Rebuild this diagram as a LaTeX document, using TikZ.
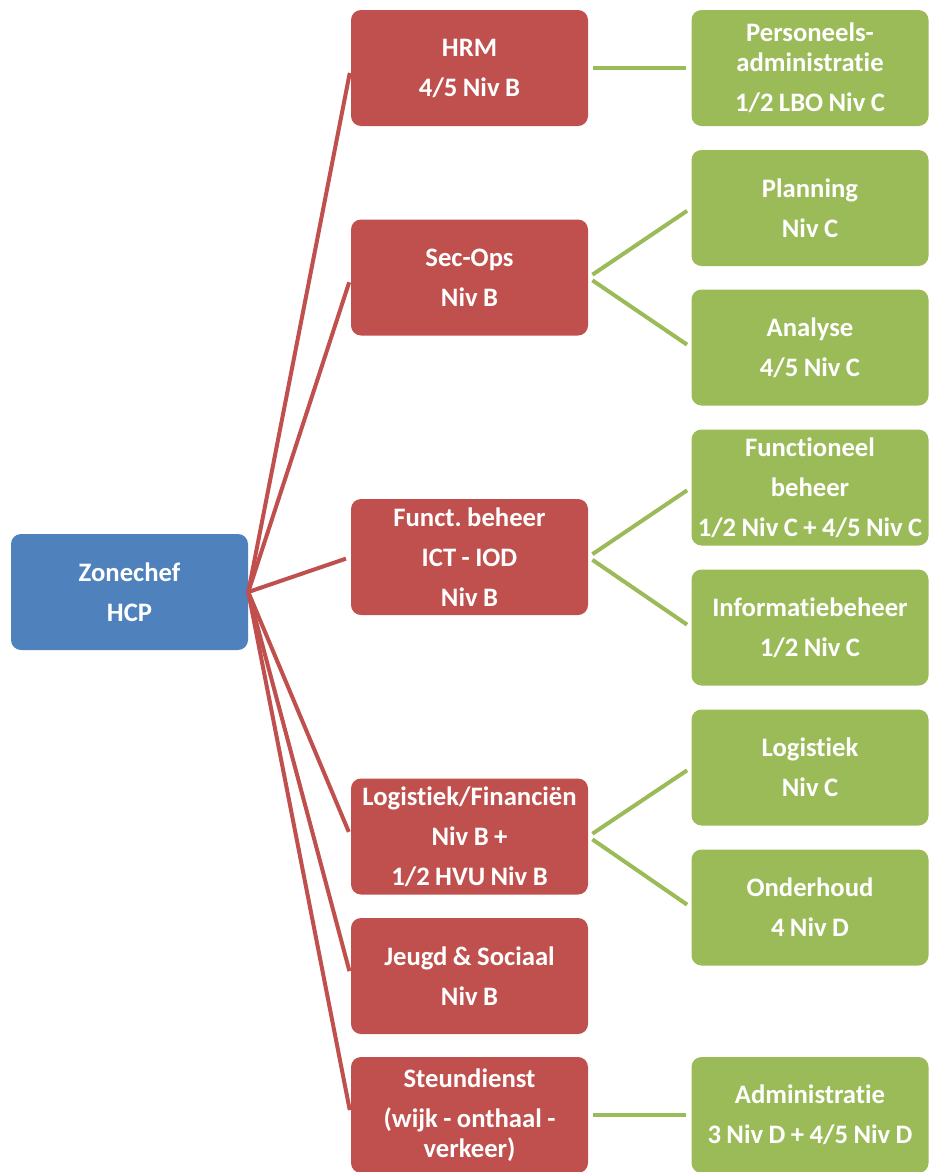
\documentclass[tikz,border=0pt]{standalone}
\usepackage{fontspec}
\setmainfont{Carlito}[Ligatures=NoCommon,WordSpace={0.9,0,0}]
\definecolor{zoneblue}{HTML}{4F81BD}
\definecolor{dienstred}{HTML}{C0504D}
\definecolor{celgreen}{HTML}{9BBB59}
\frenchspacing
\begin{document}
\begin{tikzpicture}[x=0.75pt,y=-0.75pt,
  box/.style={rounded corners=7.5pt,minimum width=177.75pt,minimum height=87pt,
    align=center,inner sep=0pt,text=white,
    font=\fontsize{20}{22.5}\selectfont\bfseries},
  chef/.style={box,fill=zoneblue},
  dienst/.style={box,fill=dienstred},
  cel/.style={box,fill=celgreen},
  redline/.style={dienstred,line width=3pt,shorten >=3.75pt},
  greenline/.style={celgreen,line width=3pt,shorten <=3.75pt,shorten >=3.75pt}]
\useasboundingbox (0,0) rectangle (930,1172);
% chef
\node[chef] (zone) at (129.5,592) {Zonechef\\[7.5pt]HCP};
% diensten
\node[dienst] (hrm)   at (469.5,68)    {HRM\\[7.5pt]4/5 Niv B};
\node[dienst] (secops) at (469.5,277.5) {Sec-Ops\\[7.5pt]Niv B};
\node[dienst] (ict)   at (469.5,557)   {Funct. beheer\\[7.5pt]ICT - IOD\\[7.5pt]Niv B};
\node[dienst] (logfin) at (469.5,836.5) {Logistiek/Financiën\\[7.5pt]Niv B +\\[7.5pt]1/2 HVU Niv B};
\node[dienst] (jeugd) at (469.5,976)   {Jeugd \& Sociaal\\[7.5pt]Niv B};
\node[dienst] (steun) at (469.5,1115)  {Steundienst\\[7.5pt](wijk - onthaal -\\verkeer)};
% cellen
\node[cel] (pers)   at (810,68)    {Personeels-\\administratie\\[7.5pt]1/2 LBO Niv C};
\node[cel] (plan)   at (810,208)   {Planning\\[7.5pt]Niv C};
\node[cel] (anal)   at (810,347.5) {Analyse\\[7.5pt]4/5 Niv C};
\node[cel] (fbeh)   at (810,487.5) {Functioneel\\[7.5pt]beheer\\[7.5pt]1/2 Niv C + 4/5 Niv C};
\node[cel] (info)   at (810,627.5) {Informatiebeheer\\[7.5pt]1/2 Niv C};
\node[cel] (logi)   at (810,767.5) {Logistiek\\[7.5pt]Niv C};
\node[cel] (onder)  at (810,907.5) {Onderhoud\\[7.5pt]4 Niv D};
\node[cel] (admin)  at (810,1115)  {Administratie\\[7.5pt]3 Niv D + 4/5 Niv D};
% lijnen
\foreach \d in {hrm,secops,ict,logfin,jeugd,steun}
  \draw[redline] (zone.east) -- (\d.west);
\draw[greenline] (hrm.east) -- (pers.west);
\draw[greenline] (secops.east) -- (plan.west);
\draw[greenline] (secops.east) -- (anal.west);
\draw[greenline] (ict.east) -- (fbeh.west);
\draw[greenline] (ict.east) -- (info.west);
\draw[greenline] (logfin.east) -- (logi.west);
\draw[greenline] (logfin.east) -- (onder.west);
\draw[greenline] (steun.east) -- (admin.west);
\end{tikzpicture}
\end{document}
